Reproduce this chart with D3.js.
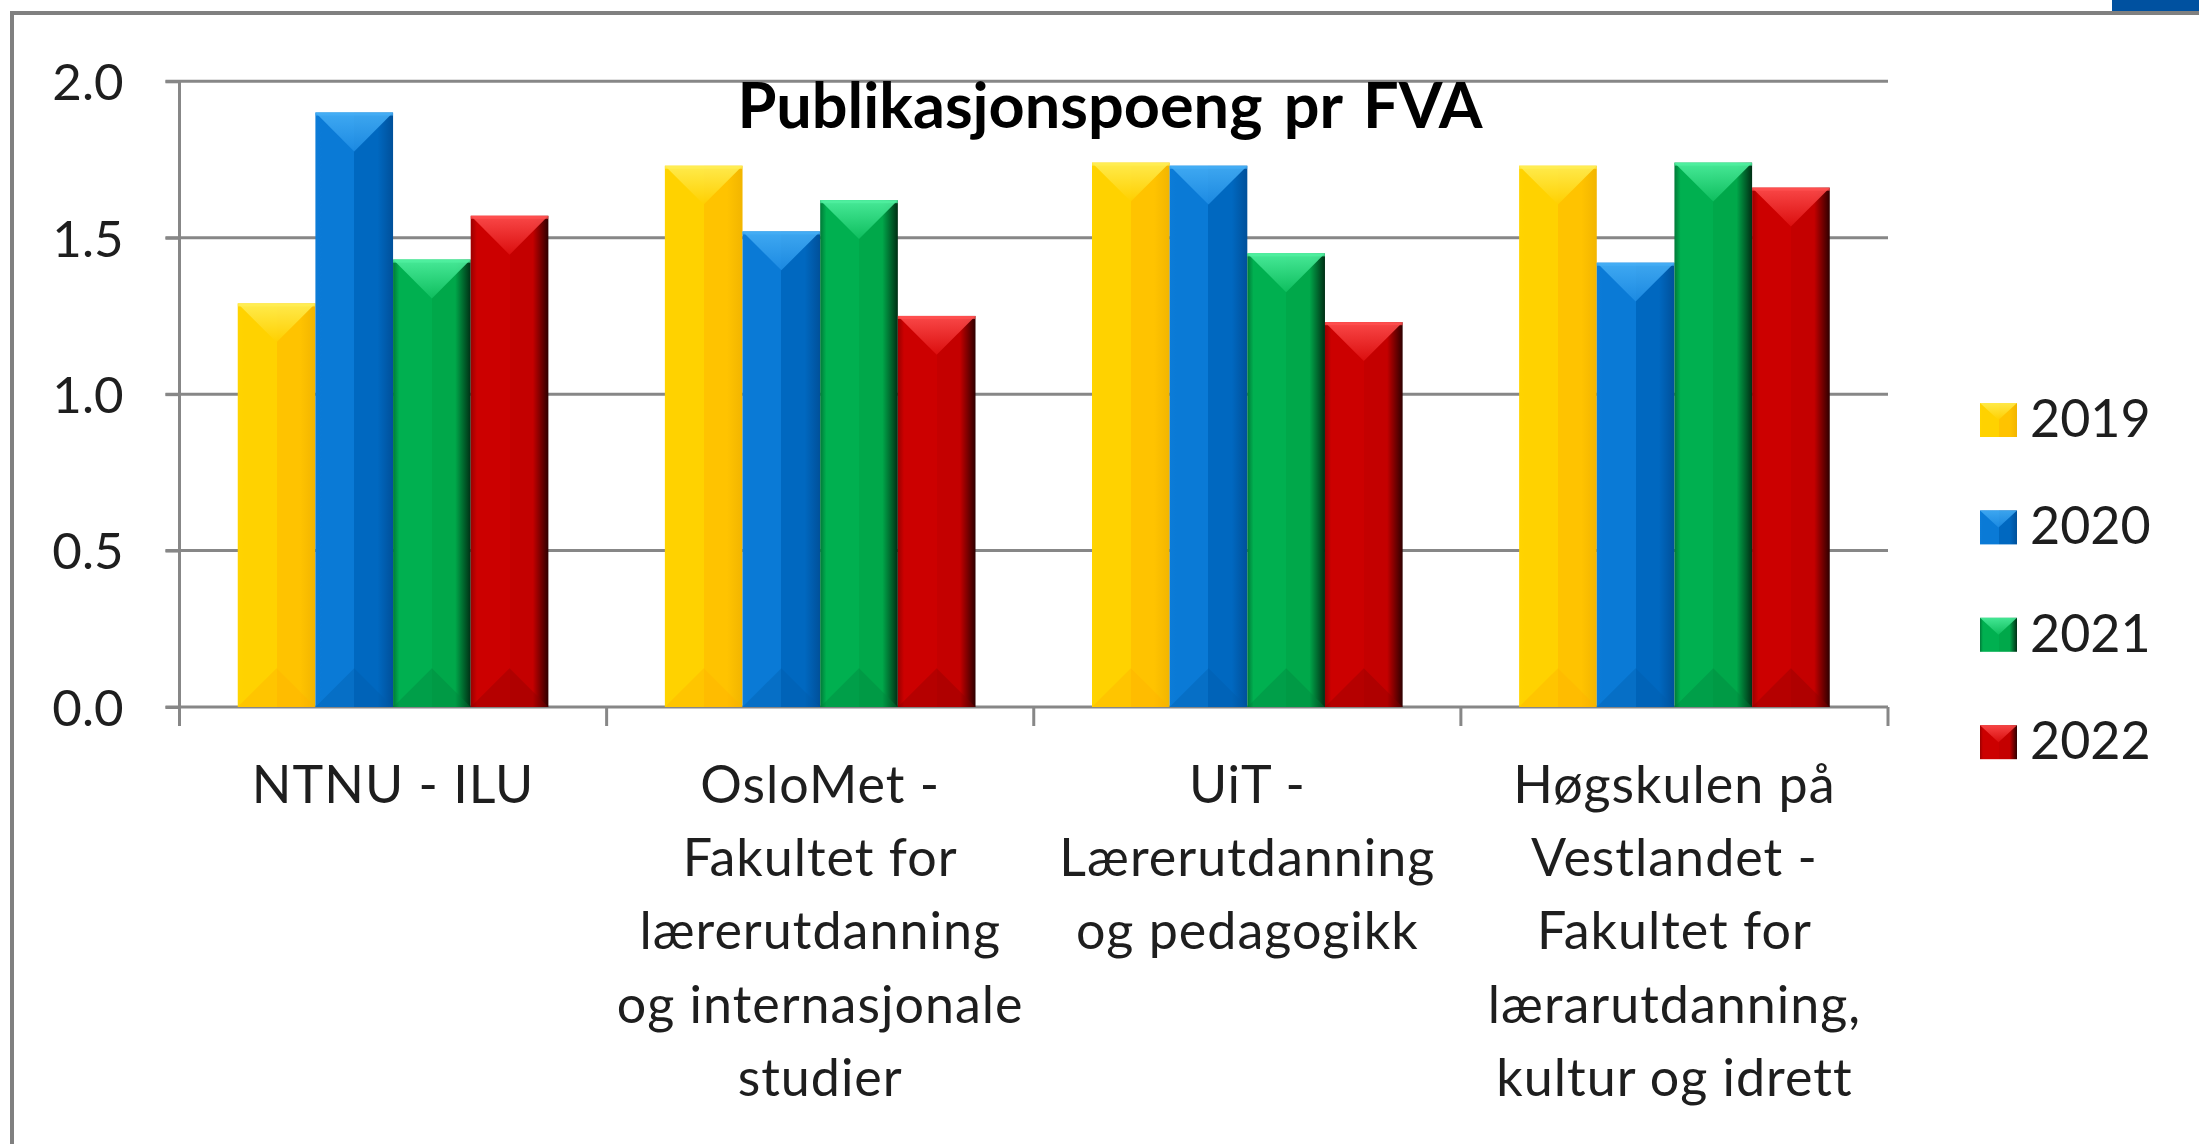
<!DOCTYPE html>
<html>
<head>
<meta charset="utf-8">
<script src="https://cdn.jsdelivr.net/npm/d3@7"></script>
<style>
  html, body { margin: 0; padding: 0; background: #ffffff; }
  svg { display: block; }
  text { font-family: Lato, "Open Sans", "DejaVu Sans", sans-serif; }
</style>
</head>
<body>
<svg id="chart" width="2199" height="1144"></svg>
<script>
// ---------------- DATA ----------------
const categories = [
  "NTNU - ILU",
  "OsloMet - Fakultet for lærerutdanning og internasjonale studier",
  "UiT - Lærerutdanning og pedagogikk",
  "Høgskulen på Vestlandet - Fakultet for lærarutdanning, kultur og idrett"
];
const categoryLabelLines = [
  ["NTNU - ILU"],
  ["OsloMet -", "Fakultet for", "lærerutdanning", "og internasjonale", "studier"],
  ["UiT -", "Lærerutdanning", "og pedagogikk"],
  ["Høgskulen på", "Vestlandet -", "Fakultet for", "lærarutdanning,", "kultur og idrett"]
];
const seriesNames = ["2019", "2020", "2021", "2022"];
const values2019 = [1.29, 1.73, 1.74, 1.73];
const values2020 = [1.90, 1.52, 1.73, 1.42];
const values2021 = [1.43, 1.62, 1.45, 1.74];
const values2022 = [1.57, 1.25, 1.23, 1.66];
const yTickValues = [0, 0.5, 1.0, 1.5, 2.0];
const chartTitle = "Publikasjonspoeng pr FVA";

// ---------------- STYLE ----------------
const seriesStyle = [
  { edgeL: "#FFD400", left: "#FFD200", right: "#FFC300", edgeR: "#F2B500", top1: "#FFEE55", top2: "#FFD000", bottom: "#FFB000" },
  { edgeL: "#0C7CD8", left: "#0A7AD6", right: "#0068C0", edgeR: "#00509A", top1: "#45AEF5", top2: "#1E8CE4", bottom: "#005CAA" },
  { edgeL: "#007A38", left: "#00B050", right: "#00A84A", edgeR: "#002E14", top1: "#50F0A0", top2: "#10C060", bottom: "#00803C" },
  { edgeL: "#9A0000", left: "#CC0000", right: "#C40000", edgeR: "#2E0000", top1: "#FF5050", top2: "#DD1010", bottom: "#8A0000" }
];
const gridColor = "#878787";
const textColor = "#1e1e1e";

const seriesValues = [values2019, values2020, values2021, values2022];
const data = categories.map((c, i) => ({
  category: c,
  lines: categoryLabelLines[i],
  values: seriesNames.map((s, j) => ({ series: s, sIndex: j, value: seriesValues[j][i] }))
}));

// ---------------- LAYOUT ----------------
const svg = d3.select("#chart");
const W = 2199, H = 1144;
const plot = { left: 179.5, right: 1888, top: 81.3, bottom: 707 };

// frame
svg.append("line").attr("x1", 10).attr("x2", W).attr("y1", 13).attr("y2", 13)
  .attr("stroke", "#808080").attr("stroke-width", 4);
svg.append("line").attr("x1", 12).attr("x2", 12).attr("y1", 11).attr("y2", H)
  .attr("stroke", "#808080").attr("stroke-width", 4);
svg.append("rect").attr("x", 2112).attr("y", 0).attr("width", W - 2112).attr("height", 11)
  .attr("fill", "#0051A0");

const defs = svg.append("defs");
seriesStyle.forEach((st, i) => {
  const g = defs.append("linearGradient").attr("id", "face" + i)
    .attr("x1", "0%").attr("x2", "100%").attr("y1", "0%").attr("y2", "0%");
  [[0, st.edgeL], [0.08, st.left], [0.5, st.left], [0.5, st.right], [0.8, st.right], [1, st.edgeR]]
    .forEach(([o, c]) => g.append("stop").attr("offset", o).attr("stop-color", c));
  const t = defs.append("linearGradient").attr("id", "top" + i)
    .attr("x1", "0%").attr("x2", "0%").attr("y1", "0%").attr("y2", "100%");
  [[0, st.top1], [1, st.top2]].forEach(([o, c]) => t.append("stop").attr("offset", o).attr("stop-color", c));
});

const y = d3.scaleLinear().domain([0, 2]).range([plot.bottom, plot.top]);
const x0 = d3.scaleBand().domain(categories).range([plot.left, plot.right]).paddingInner(0).paddingOuter(0);
const x1 = d3.scaleBand().domain(seriesNames).range([0, x0.bandwidth()]).paddingInner(0).paddingOuter(0.75);

// gridlines
svg.append("g").selectAll("line").data(yTickValues).join("line")
  .attr("x1", plot.left - 14).attr("x2", plot.right)
  .attr("y1", d => y(d)).attr("y2", d => y(d))
  .attr("stroke", gridColor).attr("stroke-width", 3);

// y axis (labels)
const yAxis = svg.append("g").attr("transform", `translate(${plot.left},0)`)
  .call(d3.axisLeft(y).tickValues(yTickValues).tickFormat(d3.format(".1f")).tickSize(14).tickPadding(42));
yAxis.select(".domain").remove();
yAxis.selectAll(".tick line").attr("stroke", gridColor).attr("stroke-width", 3);
yAxis.selectAll(".tick text").attr("font-size", 51).attr("fill", textColor)
  .attr("font-family", "Lato, sans-serif").attr("dy", "0.36em");

// axis lines
svg.append("line").attr("x1", plot.left).attr("x2", plot.left).attr("y1", plot.top).attr("y2", plot.bottom + 19)
  .attr("stroke", gridColor).attr("stroke-width", 3);
const boundaries = categories.map(c => x0(c)).concat([plot.right]);
svg.append("g").selectAll("line").data(boundaries).join("line")
  .attr("x1", d => d).attr("x2", d => d).attr("y1", plot.bottom).attr("y2", plot.bottom + 19)
  .attr("stroke", gridColor).attr("stroke-width", 3);

// bars
const groups = svg.append("g").selectAll("g").data(data).join("g")
  .attr("transform", d => `translate(${x0(d.category)},0)`);
const bars = groups.selectAll("g").data(d => d.values).join("g");
const bw = x1.bandwidth();
bars.append("rect")
  .attr("x", d => x1(d.series)).attr("width", bw)
  .attr("y", d => y(d.value)).attr("height", d => y(0) - y(d.value))
  .attr("fill", d => `url(#face${d.sIndex})`);
bars.append("polygon")
  .attr("points", d => {
    const xl = x1(d.series), xr = xl + bw, t = y(d.value);
    return `${xl},${t} ${xr},${t} ${xl + bw / 2},${t + bw * 0.5}`;
  })
  .attr("fill", d => `url(#top${d.sIndex})`).attr("opacity", 0.9);
bars.append("polygon")
  .attr("points", d => {
    const xl = x1(d.series), xr = xl + bw, b = y(0);
    return `${xl},${b} ${xr},${b} ${xl + bw / 2},${b - bw * 0.5}`;
  })
  .attr("fill", d => seriesStyle[d.sIndex].bottom).attr("opacity", 0.35);
bars.append("rect")
  .attr("x", d => x1(d.series)).attr("width", bw)
  .attr("y", d => y(d.value)).attr("height", 3)
  .attr("fill", d => seriesStyle[d.sIndex].top1).attr("opacity", 0.8);

// category labels via axis
const xAxis = svg.append("g").attr("transform", `translate(0,${plot.bottom})`)
  .call(d3.axisBottom(x0).tickSize(0).tickFormat(""));
xAxis.select(".domain").remove();
xAxis.selectAll(".tick").each(function(d, i) {
  const t = d3.select(this).select("text");
  t.text(null).attr("y", 0).attr("dy", null)
    .attr("font-size", 52).attr("letter-spacing", 1).attr("fill", textColor)
    .attr("font-family", "Lato, sans-serif")
    .attr("text-anchor", "middle");
  categoryLabelLines[i].forEach((line, k) => {
    t.append("tspan").attr("x", 0).attr("y", 96 + k * 73.2).text(line);
  });
});

// title
svg.append("text").attr("x", 1110).attr("y", 128)
  .attr("text-anchor", "middle").attr("font-size", 63).attr("font-weight", "bold")
  .attr("word-spacing", 6)
  .attr("fill", "#000").text(chartTitle);

// legend
const legend = svg.append("g").selectAll("g").data(seriesNames).join("g")
  .attr("transform", (d, i) => `translate(1980,${420 + i * 107.4})`);
legend.append("rect").attr("x", 0).attr("y", -17).attr("width", 37).attr("height", 34)
  .attr("fill", (d, i) => `url(#face${i})`);
legend.append("polygon").attr("points", "0,-17 37,-17 18.5,0")
  .attr("fill", (d, i) => `url(#top${i})`).attr("opacity", 0.85);
legend.append("text").attr("x", 50).attr("y", 17)
  .attr("font-size", 52).attr("fill", textColor).text(d => d);
</script>
</body>
</html>
